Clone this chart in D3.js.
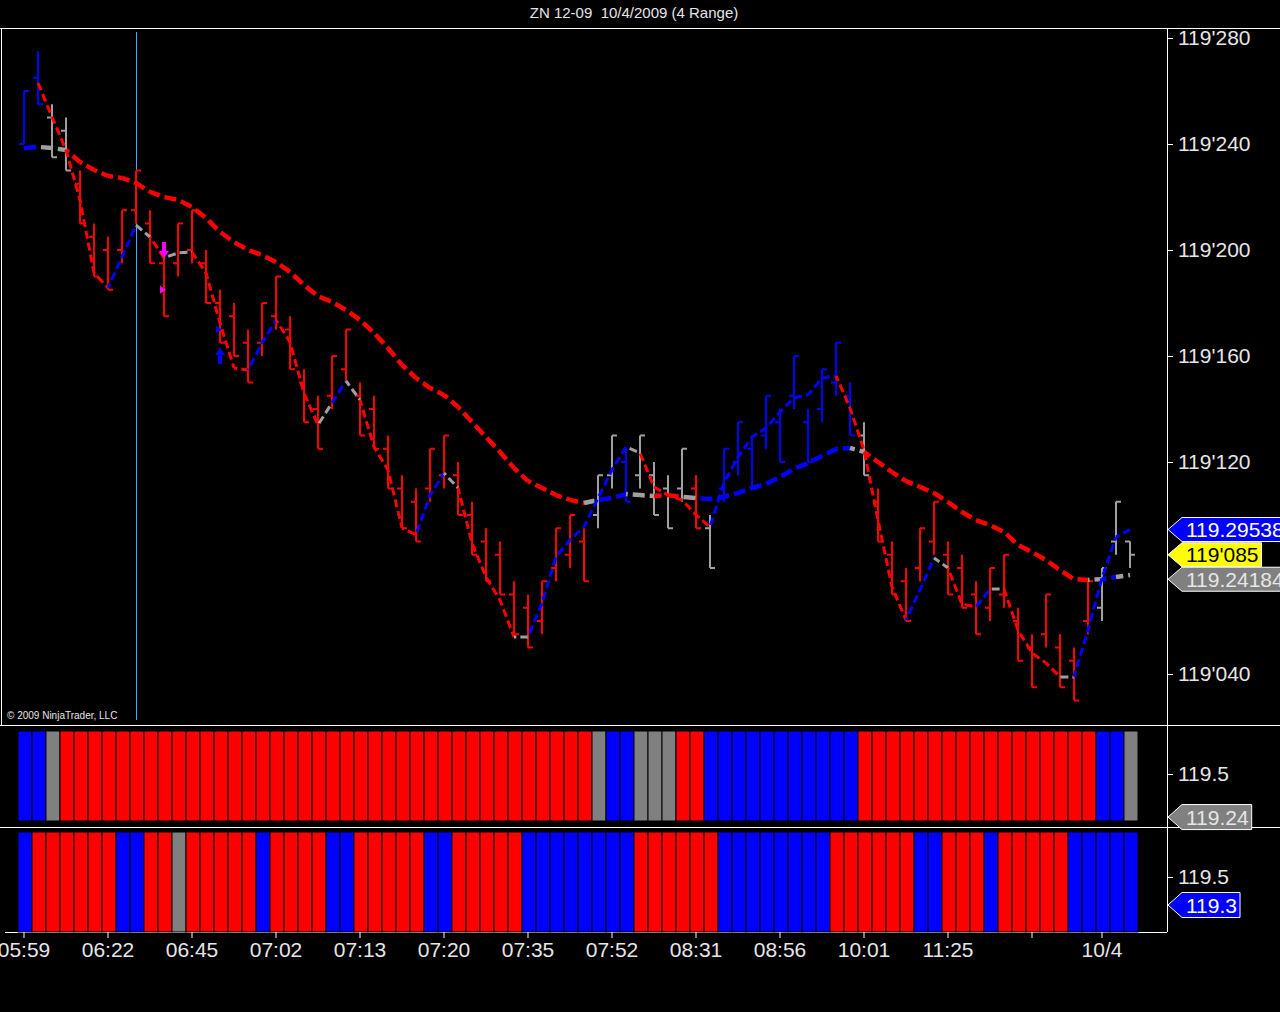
<!DOCTYPE html>
<html>
<head>
<meta charset="utf-8">
<script src="https://cdn.jsdelivr.net/npm/d3@7/dist/d3.min.js"></script>
<style>
  html, body { margin: 0; padding: 0; background: #000; }
  svg { display: block; }
  text { font-family: Arial, "Liberation Sans", sans-serif; }
</style>
</head>
<body>
<div id="chart"></div>
<script>
// prices are in 32nds above 119 (26.5 -> 119'265)
const highs = [26.0, 27.5, 25.5, 25.0, 23.0, 21.0, 20.5, 21.5, 23.0, 21.5,
  20.0, 21.0, 21.5, 20.0, 18.5, 18.0, 17.0, 18.0, 19.0, 17.5,
  15.5, 14.5, 16.0, 17.0, 15.0, 14.5, 13.0, 11.5, 11.0, 12.5,
  13.0, 12.0, 10.5, 9.5, 9.0, 7.5, 7.0, 7.5, 9.5, 10.0,
  9.5, 11.5, 13.0, 12.5, 13.0, 12.0, 11.5, 12.5, 11.5, 10.0,
  12.5, 13.5, 13.0, 14.5, 14.0, 16.0, 14.0, 15.5, 16.5, 15.0,
  13.5, 11.0, 9.0, 8.0, 9.5, 10.5, 9.0, 8.5, 7.5, 8.0,
  8.5, 6.5, 5.5, 7.0, 5.5, 5.0, 7.5, 8.0, 10.5, 9.0];
const lows = [24.0, 25.5, 23.5, 23.0, 21.0, 19.0, 18.5, 19.5, 21.0, 19.5,
  17.5, 19.0, 19.5, 18.0, 16.5, 16.0, 15.0, 16.0, 17.0, 15.5,
  13.5, 12.5, 14.0, 15.0, 13.0, 12.5, 11.0, 9.5, 9.0, 10.5,
  11.0, 10.0, 8.5, 7.5, 7.0, 5.5, 5.0, 5.5, 7.5, 8.0,
  7.5, 9.5, 11.0, 10.5, 11.0, 10.0, 9.5, 10.5, 9.5, 8.0,
  10.5, 11.5, 11.0, 12.5, 12.0, 14.0, 12.0, 13.5, 14.5, 13.0,
  11.5, 9.0, 7.0, 6.0, 7.5, 8.5, 7.0, 6.5, 5.5, 6.0,
  6.5, 4.5, 3.5, 5.0, 3.5, 3.0, 5.5, 6.0, 8.5, 8.0];
const opens = [24.0, 26.5, 25.0, 24.5, 22.5, 20.5, 20.0, 20.0, 21.5, 21.0,
  19.5, 19.5, 20.0, 19.5, 18.0, 17.5, 16.5, 16.5, 17.5, 17.0,
  15.0, 14.0, 14.5, 15.5, 14.5, 14.0, 12.5, 11.0, 10.5, 11.0,
  11.5, 11.5, 10.0, 9.0, 8.5, 7.0, 6.5, 6.0, 8.0, 8.5,
  9.0, 10.0, 11.5, 12.0, 11.5, 11.5, 11.0, 11.0, 11.0, 9.5,
  11.0, 12.0, 12.5, 13.0, 13.5, 14.5, 13.5, 14.0, 15.0, 14.5,
  13.0, 10.5, 8.5, 7.5, 8.0, 9.0, 8.5, 8.0, 7.0, 6.5,
  7.0, 6.0, 5.0, 5.5, 5.0, 4.5, 6.0, 6.5, 9.0, 9.0];
const closes = [26.0, 25.5, 23.5, 23.0, 21.0, 19.0, 18.5, 21.5, 23.0, 19.5,
  17.5, 21.0, 21.5, 18.0, 16.5, 16.0, 15.0, 18.0, 19.0, 15.5,
  13.5, 12.5, 16.0, 17.0, 13.0, 12.5, 11.0, 9.5, 9.0, 12.5,
  13.0, 10.0, 8.5, 7.5, 7.0, 5.5, 5.0, 7.5, 9.5, 10.0,
  7.5, 11.5, 13.0, 10.5, 13.0, 10.0, 9.5, 12.5, 9.5, 8.0,
  12.5, 13.5, 11.0, 14.5, 12.0, 16.0, 12.0, 15.5, 16.5, 13.0,
  11.5, 9.0, 7.0, 6.0, 9.5, 10.5, 7.0, 6.5, 5.5, 8.0,
  8.5, 4.5, 3.5, 7.0, 3.5, 3.0, 7.5, 8.0, 10.5, 8.5];
// R = red, B = blue, G = gray
const barColors = "BBGG RRRRRRRRRR RRRRRRRRRR RRRRRRRRRR RRRRRRR GGBGGGGRG BBBBBBBBBB G RRRRRRRRRRRRRRRR GGG";

// fast average (thin dashed), color is for the segment ending at that bar
const fastMA = [null, 26.30, 25.02, 23.77, 21.89, 19.13, 18.57, 19.74, 20.94, 20.49,
  19.70, 19.89, 19.92, 19.13, 17.25, 15.55, 15.47, 16.49, 17.36, 16.53,
  14.60, 13.40, 14.23, 15.06, 14.34, 12.57, 11.70, 9.51, 9.25, 10.75,
  11.58, 11.02, 8.94, 7.66, 6.79, 5.40, 5.40, 6.68, 8.42, 9.06,
  9.55, 10.64, 11.70, 12.57, 12.34, 11.06, 10.75, 10.57, 10.00, 9.55,
  11.21, 12.19, 12.94, 13.28, 13.89, 14.42, 14.53, 15.17, 15.25, 14.04,
  12.45, 9.81, 7.28, 6.04, 7.17, 8.38, 8.00, 6.64, 6.53, 7.21,
  7.21, 5.66, 4.79, 4.42, 3.89, 3.89, 5.66, 7.62, 9.17, 9.4522];
const fastColors = "-- RRRRR BB G R GG RRRR BB RRR G B G RRRR BB G RRRR G BBBBBBB G RRRRR BBBBBBBBB RRRRR BB G RR B G RRRR G BBBB";

// slow average (thick dashed)
const slowMA = [23.85, 23.89, 23.85, 23.77, 23.32, 23.02, 22.79, 22.72, 22.53, 22.19,
  22.00, 21.89, 21.62, 21.21, 20.68, 20.30, 20.00, 19.81, 19.55, 19.17,
  18.68, 18.26, 18.04, 17.74, 17.36, 16.87, 16.30, 15.66, 15.17, 14.79,
  14.53, 14.08, 13.51, 12.94, 12.38, 11.77, 11.28, 11.02, 10.75, 10.57,
  10.45, 10.57, 10.64, 10.79, 10.75, 10.72, 10.75, 10.68, 10.64, 10.60,
  10.68, 10.83, 11.02, 11.17, 11.43, 11.74, 11.96, 12.23, 12.49, 12.53,
  12.38, 12.00, 11.62, 11.28, 11.06, 10.83, 10.49, 10.11, 9.81, 9.62,
  9.36, 8.87, 8.60, 8.30, 7.92, 7.58, 7.55, 7.58, 7.66, 7.7389];
const slowColors = "- B GG RRRRRRRRRR RRRRRRRRRR RRRRRRRRRR RRRRRRR G BB GG RR G BBBBBBBBBBB G RRRRRRRRRRRRRRRR G B G";

// lower panels
const trendColors = "BBG RRRRRRRRRR RRRRRRRRRR RRRRRRRRRR RRRRRRRR G BB GGG RR BBBBBBBBBBB RRRRRRRRRRRRRRRRR BB G";
const momentumColors = "B RRRRRR BB RR G RRRRR B RRRR BB RRRRR BB RRRRR BBBBBBBB RRRRRR BBBBBBBB RRRRRR BB RRR B RRRRR BBBBB";
const trendTicks = [119.5];
const trendLast = 119.24;
const momentumTicks = [119.5];
const momentumLast = 119.3;

const priceTicks = [4, 8, 12, 16, 20, 24, 28];
const lastPrice = 8.5;
const timeTickBars = [0, 6, 12, 18, 24, 30, 36, 42, 48, 54, 60, 66, 72, 77];
const timeTickLabels = ["05:59", "06:22", "06:45", "07:02", "07:13", "07:20", "07:35",
  "07:52", "08:31", "08:56", "10:01", "11:25", "", "10/4"];

const cursorBar = 8;
const markerBars = [10, 10, 14, 14];
const markerPrices = [20.0, 18.5, 16.0, 17.0];
const markerShapes = ["down", "tri", "up", "tri"];
const markerColors = ["#ff00ff", "#ff00ff", "#0000ff", "#0000ff"];

const chars = s => s.replace(/ /g, "").split("");
const barC = chars(barColors), fastC = chars(fastColors), slowC = chars(slowColors);
const trendC = chars(trendColors), momC = chars(momentumColors);

const lineColor = { R: "#ff0000", B: "#0000ff", G: "#a0a0a0" };
const panelColor = { R: "#ff0000", B: "#0000ff", G: "#808080" };
const textColor = "#e6e6e6";

const width = 1280, height = 1012;
const axisX = 1167;
const mainTop = 28, mainBottom = 725, p1Bottom = 827, p2Bottom = 932;

const svg = d3.select("#chart").append("svg")
  .attr("width", width).attr("height", height)
  .style("background", "#000");

const x = d3.scaleBand().domain(d3.range(highs.length)).range([18, 1138]);
const cx = i => x(i) + x.bandwidth() / 2 - 1;
const y = d3.scaleLinear().domain([2.113, 28.377]).range([724, 28]);
const yTrend = d3.scaleLinear().domain([119.18, 119.796]).range([827, 725]);
const yMom = d3.scaleLinear().domain([119.107, 119.857]).range([932, 827]);

const fmt32 = v => "119'" + String(Math.round(v * 10)).padStart(3, "0");
const fmtDec = v => (119 + v / 32).toFixed(5);

// title
svg.append("text").attr("x", 634).attr("y", 18)
  .attr("text-anchor", "middle").attr("fill", textColor)
  .style("font-size", "15px").style("white-space", "pre")
  .text("ZN 12-09  10/4/2009 (4 Range)");

// frame
const frame = svg.append("g").attr("stroke", "#fff").attr("stroke-width", 1);
frame.append("line").attr("x1", 0).attr("x2", width).attr("y1", mainTop + 0.5).attr("y2", mainTop + 0.5);
frame.append("line").attr("x1", 1.5).attr("x2", 1.5).attr("y1", mainTop).attr("y2", mainBottom);
frame.append("line").attr("x1", axisX + 0.5).attr("x2", axisX + 0.5).attr("y1", mainTop).attr("y2", p2Bottom);
frame.append("line").attr("x1", 0).attr("x2", width).attr("y1", mainBottom + 0.5).attr("y2", mainBottom + 0.5);
frame.append("line").attr("x1", 0).attr("x2", width).attr("y1", p1Bottom + 0.5).attr("y2", p1Bottom + 0.5);
frame.append("line").attr("x1", 5).attr("x2", axisX).attr("y1", p2Bottom + 0.5).attr("y2", p2Bottom + 0.5);

// cursor line
svg.append("line")
  .attr("x1", cx(cursorBar) + 0.5).attr("x2", cx(cursorBar) + 0.5)
  .attr("y1", 32).attr("y2", 720)
  .attr("stroke", "#4aa3ff").attr("stroke-width", 1);

svg.append("text").attr("x", 7).attr("y", 719)
  .attr("fill", textColor).style("font-size", "10px")
  .text("\u00a9 2009 NinjaTrader, LLC");

// lower panels
const p1 = svg.append("g");
p1.selectAll("rect").data(trendC).enter().append("rect")
  .attr("x", (d, i) => x(i)).attr("width", x.bandwidth())
  .attr("y", 731).attr("height", 90)
  .attr("fill", d => panelColor[d]).attr("stroke", "#000").attr("stroke-width", 1);
const p2 = svg.append("g");
p2.selectAll("rect").data(momC).enter().append("rect")
  .attr("x", (d, i) => x(i)).attr("width", x.bandwidth())
  .attr("y", 832).attr("height", 100)
  .attr("fill", d => panelColor[d]).attr("stroke", "#000").attr("stroke-width", 1);

// price bars
const bars = svg.append("g").attr("stroke-width", 2);
highs.forEach((h, i) => {
  const c = lineColor[barC[i]];
  const xc = cx(i);
  bars.append("line").attr("x1", xc).attr("x2", xc)
    .attr("y1", y(h)).attr("y2", y(lows[i])).attr("stroke", c);
  bars.append("line").attr("x1", xc - 5).attr("x2", xc)
    .attr("y1", y(opens[i])).attr("y2", y(opens[i])).attr("stroke", c);
  bars.append("line").attr("x1", xc).attr("x2", xc + 5)
    .attr("y1", y(closes[i])).attr("y2", y(closes[i])).attr("stroke", c);
});

// multi-coloured dashed lines, dash phase carried over between segments
function drawSegments(values, colors, strokeW, dash) {
  const g = svg.append("g").attr("fill", "none");
  const line = d3.line().x(i => cx(i)).y(i => y(values[i]));
  let run = 0;
  for (let i = 1; i < values.length; i++) {
    if (values[i - 1] == null) continue;
    const len = Math.hypot(x.bandwidth(), y(values[i]) - y(values[i - 1]));
    g.append("path").attr("d", line([i - 1, i]))
      .attr("stroke", lineColor[colors[i]])
      .attr("stroke-width", strokeW)
      .attr("stroke-dasharray", dash)
      .attr("stroke-dashoffset", run);
    run += len;
  }
}
drawSegments(slowMA, slowC, 4.5, "12,5");
drawSegments(fastMA, fastC, 3, "8,4");

// trade markers
markerBars.forEach((b, i) => {
  const mx = cx(b), my = y(markerPrices[i]), col = markerColors[i];
  let d;
  if (markerShapes[i] === "down") {
    d = `M${mx - 2},${my - 8}h4v9h3l-5,7l-5,-7h3z`;
  } else if (markerShapes[i] === "up") {
    d = `M${mx - 2},${my + 8}h4v-9h3l-5,-7l-5,7h3z`;
  } else {
    d = `M${mx - 4},${my - 4}l6,4l-6,4z`;
  }
  svg.append("path").attr("d", d).attr("fill", col);
});

// price axis
const tags = [
  { v: fastMA[fastMA.length - 1], text: fmtDec(fastMA[fastMA.length - 1]), fill: "#0000ff", color: "#fff" },
  { v: lastPrice, text: fmt32(lastPrice), fill: "#ffff00", color: "#000" },
  { v: slowMA[slowMA.length - 1], text: fmtDec(slowMA[slowMA.length - 1]), fill: "#808080", color: "#e6e6e6" }
];
tags.forEach(t => { t.yc = y(t.v); });
tags.sort((a, b) => a.yc - b.yc);
for (let i = 1; i < tags.length; i++) {
  if (tags[i].yc - tags[i - 1].yc < 24.5) tags[i].yc = tags[i - 1].yc + 24.5;
}

const yAxis = d3.axisRight(y).tickValues(priceTicks).tickFormat(fmt32).tickSize(6).tickPadding(5);
const yAxisG = svg.append("g").attr("transform", `translate(${axisX},0)`).call(yAxis);
yAxisG.select(".domain").remove();
yAxisG.selectAll(".tick line").attr("stroke", "#fff");
yAxisG.selectAll(".tick text").attr("fill", textColor)
  .style("font-size", "21px").style("font-family", "Arial, 'Liberation Sans', sans-serif");
yAxisG.selectAll(".tick").filter(d => tags.some(t => Math.abs(y(d) - t.yc) < 22)).remove();

function drawTag(yc, text, fill, color, h) {
  const g = svg.append("g");
  const x0 = axisX + 1, tx = x0 + 18;
  const label = g.append("text").attr("x", tx).attr("y", yc).attr("dy", "0.36em")
    .attr("fill", color).style("font-size", "21px").text(text);
  const x1 = tx + label.node().getComputedTextLength() + 3;
  g.insert("path", "text")
    .attr("d", `M${x0},${yc}L${x0 + 14},${yc - h / 2}H${x1}V${yc + h / 2}H${x0 + 14}Z`)
    .attr("fill", fill).attr("stroke", "#fff").attr("stroke-width", 1);
}
tags.forEach(t => drawTag(t.yc, t.text, t.fill, t.color, 24));

// lower panel axes
function panelAxis(scale, ticks) {
  const g = svg.append("g").attr("transform", `translate(${axisX},0)`)
    .call(d3.axisRight(scale).tickValues(ticks).tickFormat(d3.format(".1f")).tickSize(6).tickPadding(5));
  g.select(".domain").remove();
  g.selectAll(".tick line").attr("stroke", "#fff");
  g.selectAll(".tick text").attr("fill", textColor)
    .style("font-size", "21px").style("font-family", "Arial, 'Liberation Sans', sans-serif");
}
panelAxis(yTrend, trendTicks);
panelAxis(yMom, momentumTicks);
drawTag(yTrend(trendLast), String(trendLast), "#808080", "#e6e6e6", 25);
drawTag(yMom(momentumLast), String(momentumLast), "#0000ff", "#fff", 25);

// time axis
const xAxis = d3.axisBottom(x)
  .tickValues(timeTickBars)
  .tickFormat((d, i) => timeTickLabels[i])
  .tickSize(6).tickPadding(4);
const xAxisG = svg.append("g").attr("transform", `translate(-1,${p2Bottom})`).call(xAxis);
xAxisG.select(".domain").remove();
xAxisG.selectAll(".tick line").attr("stroke", "#fff");
xAxisG.selectAll(".tick text").attr("fill", textColor)
  .style("font-size", "21px").style("font-family", "Arial, 'Liberation Sans', sans-serif");
</script>
</body>
</html>
